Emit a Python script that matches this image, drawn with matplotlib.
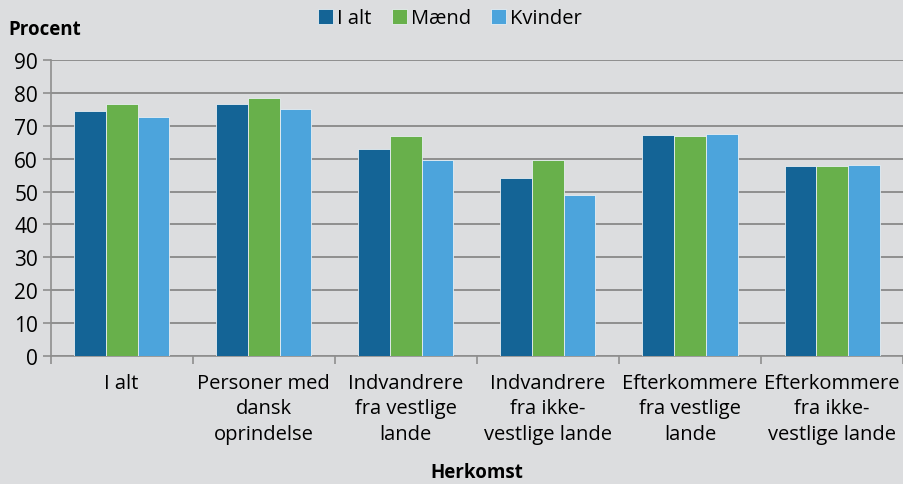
import matplotlib.pyplot as plt
import numpy as np

categories = ['I alt', 'Personer med\ndansk\noprindelse', 'Indvandrere\nfra vestlige\nlande',
              'Indvandrere\nfra ikke-\nvestlige lande', 'Efterkommere\nfra vestlige\nlande',
              'Efterkommere\nfra ikke-\nvestlige lande']
ialt = [74.5, 76.7, 63.1, 54.2, 67.1, 57.8]
maend = [76.6, 78.6, 66.9, 59.6, 66.9, 57.7]
kvinder = [72.6, 75.2, 59.5, 49.1, 67.4, 58.0]
series = ['I alt', 'Mænd', 'Kvinder']
colors = ['#146496', '#68b04b', '#4ca4dc']

plt.rcParams['font.family'] = ['Open Sans', 'DejaVu Sans']
bg = '#dcdddf'
fig = plt.figure(figsize=(9.04, 4.85), dpi=100, facecolor=bg)
ax = fig.add_axes([0.056, 0.264, 0.943, 0.61], facecolor=bg)

x = np.arange(len(categories))
w = 0.223
for i, (vals, name) in enumerate(zip([ialt, maend, kvinder], series)):
    ax.bar(x + (i - 1) * w, vals, w, color=colors[i], edgecolor='#e8eef2', linewidth=0.6,
           label=name, zorder=3)

ax.set_ylim(0, 90)
ax.set_xlim(-0.5, 5.5)
ax.set_yticks(range(0, 91, 10))
ax.yaxis.grid(True, color='#8e8e8e', linewidth=1.4, zorder=0)
ax.set_xticks(x)
ax.set_xticklabels(categories, fontsize=14.5, linespacing=1.38)
ax.set_xticks(np.arange(-0.5, 5.6, 1), minor=True)
ax.tick_params(axis='x', which='major', length=0, pad=12)
ax.tick_params(axis='x', which='minor', length=6, color='#8e8e8e', width=1.2)
ax.tick_params(axis='y', length=6, color='#8e8e8e', width=1.2, labelsize=15, pad=3)
for s in ['top', 'right']:
    ax.spines[s].set_visible(False)
for s in ['left', 'bottom']:
    ax.spines[s].set_color('#8e8e8e')
    ax.spines[s].set_linewidth(1.2)

fig.text(0.009, 0.938, 'Procent', fontsize=13.5, fontweight='bold', ha='left', va='center')
fig.text(0.528, 0.024, 'Herkomst', fontsize=13.5, fontweight='bold', ha='center', va='center')
fig.legend(loc='center', bbox_to_anchor=(0.498, 0.96), ncol=3, frameon=False, fontsize=14.5,
           handlelength=0.75, handleheight=0.75, handletextpad=0.2, columnspacing=1.0)

plt.savefig('out.png', dpi=100, facecolor=bg)
